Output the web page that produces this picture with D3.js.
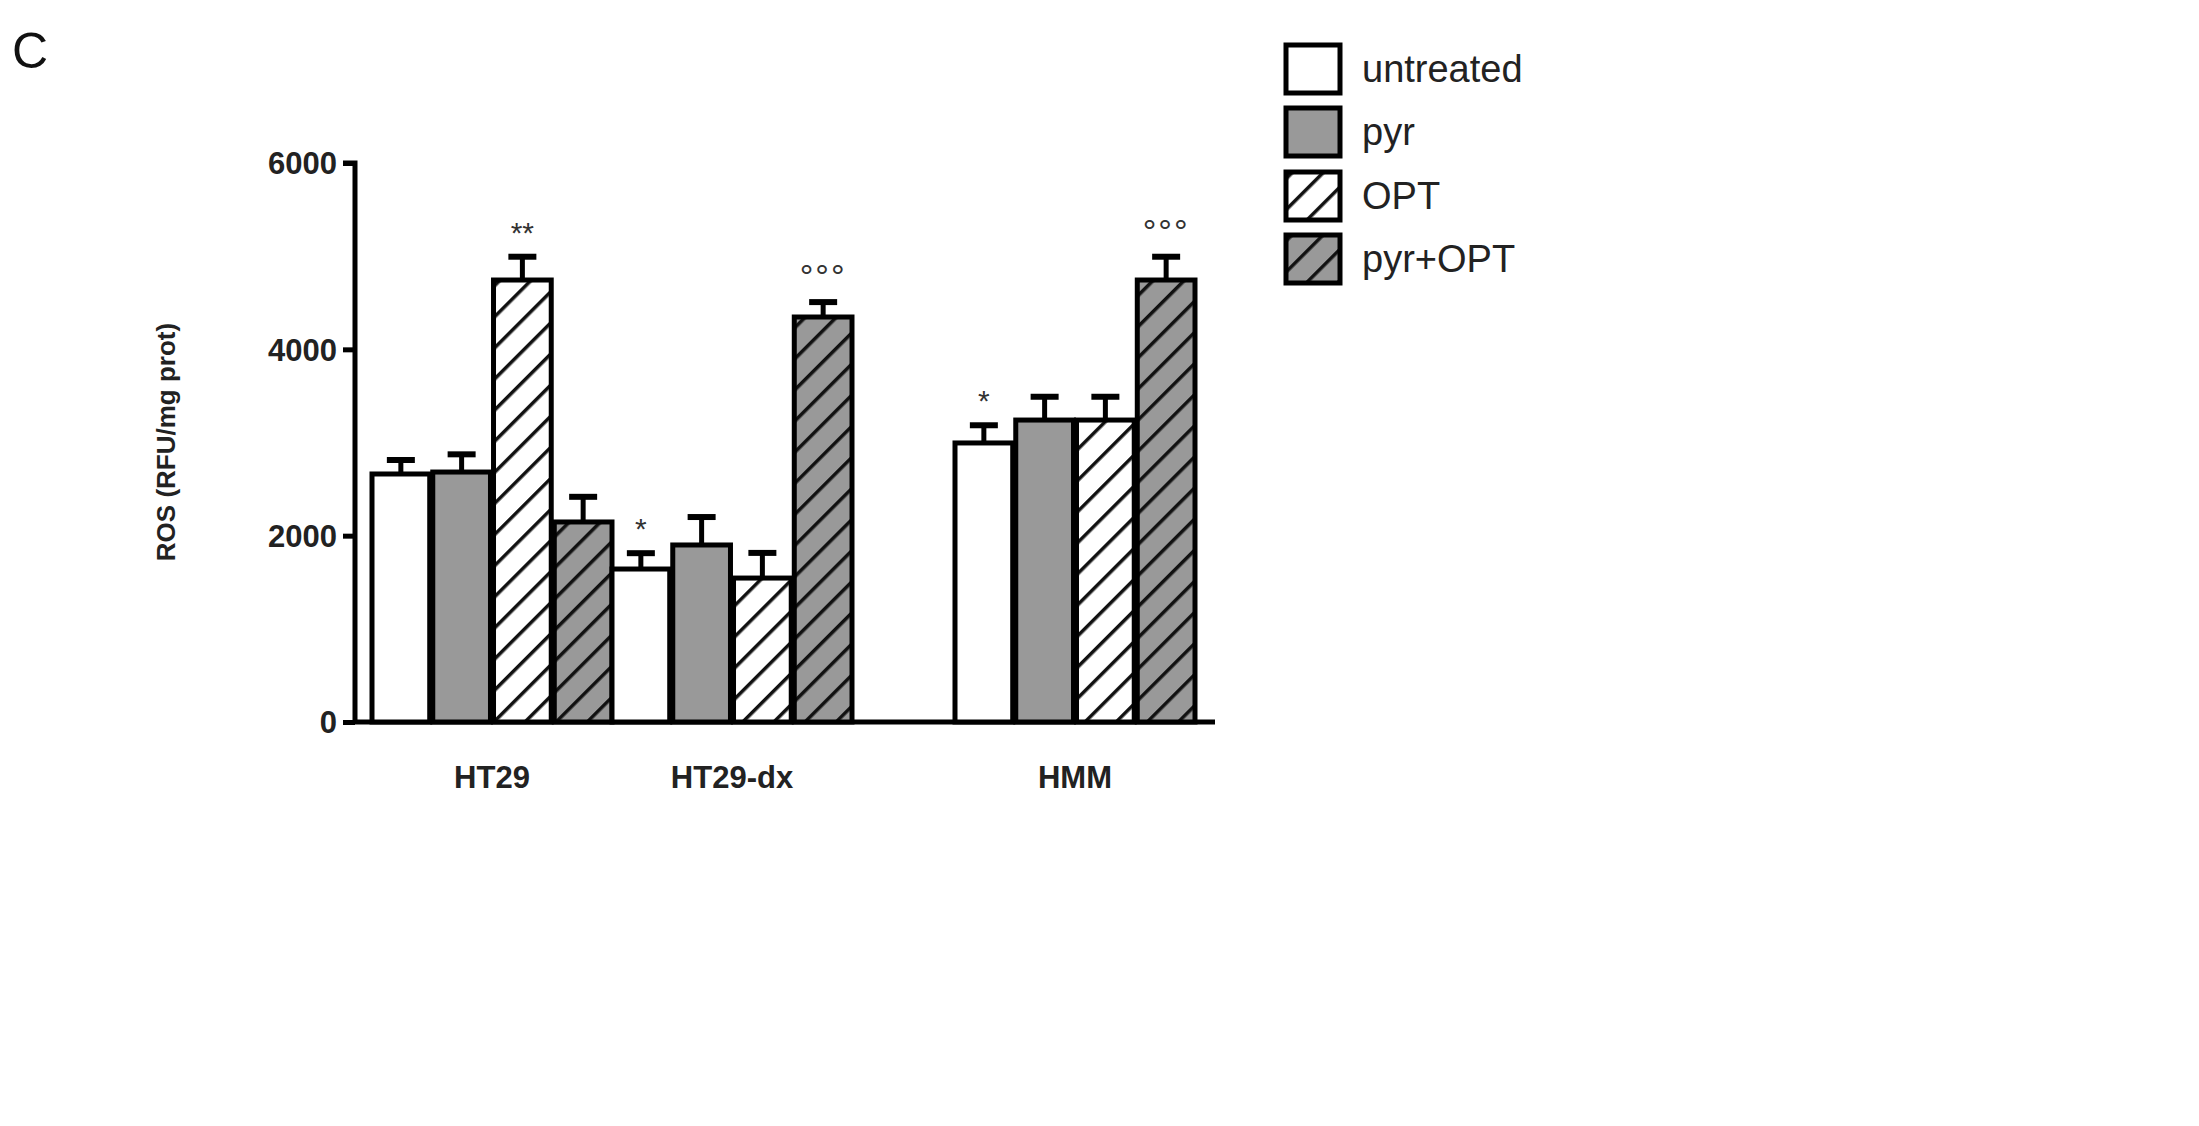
<!DOCTYPE html><html><head><meta charset="utf-8"><script src="https://cdn.jsdelivr.net/npm/d3@7"></script>
<style>body{margin:0;background:#fff}text{font-family:Arial,"Liberation Sans",sans-serif}</style></head><body>
<svg id="c" width="2199" height="1126"></svg>
<script>
const groups=["HT29","HT29-dx","HMM"];
const series=["untreated","pyr","OPT","pyr+OPT"];
const values=[[2662,2683,4744,2147],[1642,1900,1545,4347],[2995,3241,3241,4744]];
const errors=[[150,190,250,270],[170,300,270,160],[190,250,250,250]];
const marks=[["","","**",""],["*","","","°°°"],["*","","","°°°"]];
const yTicks=[0,2000,4000,6000];
const svg=d3.select("#c");
const defs=svg.append("defs");
function hatch(id,bg){const p=defs.append("pattern").attr("id",id).attr("patternUnits","userSpaceOnUse").attr("width",22).attr("height",22).attr("patternTransform","rotate(45)");
p.append("rect").attr("width",22).attr("height",22).attr("fill",bg);
p.append("line").attr("x1",0).attr("y1",0).attr("x2",0).attr("y2",22).attr("stroke","#111").attr("stroke-width",7);}
hatch("h1","#fff");hatch("h2","#999");
const fills=["#fff","#999","url(#h1)","url(#h2)"];
const y=d3.scaleLinear().domain([0,6000]).range([722,163]);
const gx=d3.scaleOrdinal().domain(groups).range([372,612,955]);
const bx=d3.scaleBand().domain(series).range([0,240]).paddingInner(0.05);
const ax=svg.append("g").attr("transform","translate(355,0)").call(d3.axisLeft(y).tickValues(yTicks).tickSize(12).tickFormat(d3.format("d")));
ax.select(".domain").attr("stroke-width",5).attr("d","M-12,163H0V722");
ax.selectAll(".tick line").attr("stroke-width",5);
ax.selectAll("text").attr("font-size",31).attr("font-weight","bold").attr("fill","#222").attr("x",-18).attr("dy","0.35em");
svg.append("line").attr("x1",353).attr("x2",1215).attr("y1",722).attr("y2",722).attr("stroke","#000").attr("stroke-width",5);
groups.forEach((g,gi)=>{series.forEach((s,si)=>{
const x0=gx(g)+bx(s),w=bx.bandwidth(),v=values[gi][si],e=errors[gi][si],cx=x0+w/2;
svg.append("line").attr("x1",cx).attr("x2",cx).attr("y1",y(v)).attr("y2",y(v+e)).attr("stroke","#000").attr("stroke-width",5);
svg.append("line").attr("x1",cx-14).attr("x2",cx+14).attr("y1",y(v+e)).attr("y2",y(v+e)).attr("stroke","#000").attr("stroke-width",6);
svg.append("rect").attr("x",x0).attr("y",y(v)).attr("width",w).attr("height",y(0)-y(v)).attr("fill",fills[si]).attr("stroke","#000").attr("stroke-width",5);
if(marks[gi][si])svg.append("text").attr("x",cx).attr("y",y(v+e)-14).attr("text-anchor","middle").attr("font-size",marks[gi][si][0]=="*"?30:34).attr("fill","#333").attr("letter-spacing",marks[gi][si][0]=="*"?0:2).text(marks[gi][si]);
});
svg.append("text").attr("x",gx(g)+120).attr("y",788).attr("text-anchor","middle").attr("font-size",31).attr("font-weight","bold").attr("fill","#222").text(g);});
svg.append("text").attr("transform","translate(175,442) rotate(-90)").attr("text-anchor","middle").attr("font-size",26).attr("font-weight","bold").attr("fill","#222").text("ROS (RFU/mg prot)");
svg.append("text").attr("x",12).attr("y",68).attr("font-size",50).attr("fill","#111").text("C");
series.forEach((s,i)=>{const yy=[45,108,172,235][i];
svg.append("rect").attr("x",1286).attr("y",yy).attr("width",54).attr("height",48).attr("fill",fills[i]).attr("stroke","#000").attr("stroke-width",5);
svg.append("text").attr("x",1362).attr("y",yy+37).attr("font-size",38).attr("fill","#222").text(s);});
</script></body></html>
